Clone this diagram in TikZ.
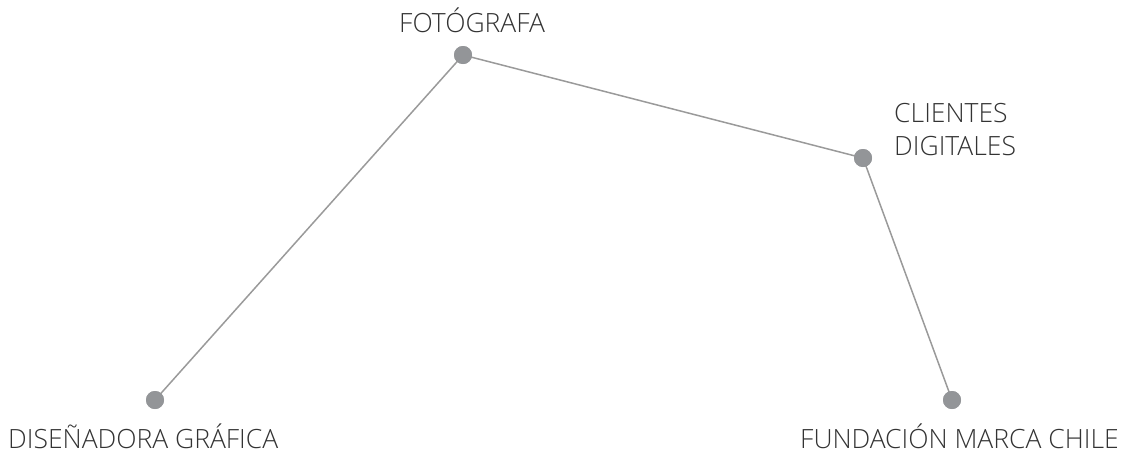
\documentclass[tikz,border=0pt]{standalone}
\usepackage{fontspec}
\newfontfamily\labelfont{Open Sans Light}
\definecolor{dotgray}{HTML}{939598}
\definecolor{linegray}{HTML}{9A9A9A}
\definecolor{textgray}{HTML}{333333}
\begin{document}
\begin{tikzpicture}[x=1pt,y=-1pt,
  dot/.style={circle,fill=dotgray,minimum size=18pt,inner sep=0pt},
  lbl/.style={font=\labelfont\fontsize{26.5}{33}\selectfont,text=textgray,inner sep=0pt,anchor=base west,align=left},
  link/.style={draw=linegray,line width=1.5pt}]
\useasboundingbox (0,0) rectangle (1131,456);
\node[dot] (foto) at (463,55) {};
\node[dot] (cli) at (863,158) {};
\node[dot] (dis) at (155,400) {};
\node[dot] (fun) at (952,400) {};
\draw[link] (dis.center) -- (foto.center) -- (cli.center) -- (fun.center);
\node[dot] at (foto) {};
\node[dot] at (cli) {};
\node[dot] at (dis) {};
\node[dot] at (fun) {};
\node[lbl] (tfoto) at (399,32) {FOTÓGRAFA};
\node[lbl] (tcli) at (894,155) {CLIENTES\\DIGITALES};
\node[lbl] (tdis) at (8,448) {DISEÑADORA GRÁFICA};
\node[lbl] (tfun) at (800,448) {FUNDACIÓN MARCA CHILE};
\end{tikzpicture}
\end{document}
